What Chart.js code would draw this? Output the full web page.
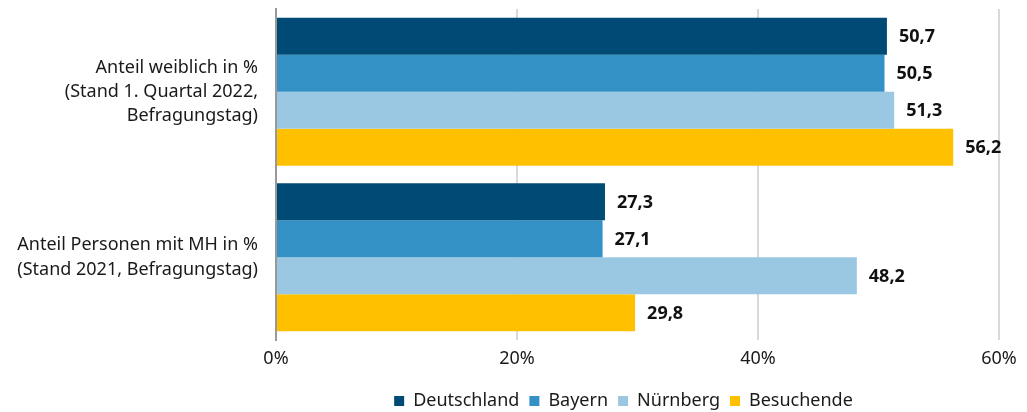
<!DOCTYPE html>
<html>
<head>
<meta charset="utf-8">
<script src="https://cdn.jsdelivr.net/npm/chart.js@4/dist/chart.umd.min.js"></script>
<style>
  html, body { margin: 0; padding: 0; background: #fff; }
  #wrap { width: 1027px; height: 412px; position: relative; }
</style>
</head>
<body>
<div id="wrap"><canvas id="chart"></canvas></div>
<script>
const categories = [
    ["Anteil weiblich in %", "(Stand 1. Quartal 2022,", "Befragungstag)"],
    ["Anteil Personen mit MH in %", "(Stand 2021, Befragungstag)"]
];
const seriesNames = ["Deutschland", "Bayern", "Nürnberg", "Besuchende"];
const deutschland = [50.7, 27.3];
const bayern = [50.5, 27.1];
const nuernberg = [51.3, 48.2];
const besuchende = [56.2, 29.8];
const xTicks = [0, 20, 40, 60];

const colors = ["#004b76", "#3391c6", "#9ac8e2", "#ffc000"];
const FONT = "'Noto Sans', 'Open Sans', sans-serif";

// Werte rechts neben die Balken schreiben
const valueLabels = {
    id: "valueLabels",
    afterLayout(chart) {
        // Legende etwas nach links schieben wie im Original
        chart.legend.left -= 14;
        chart.legend.right -= 14;
    },
    afterDatasetsDraw(chart) {
        const ctx = chart.ctx;
        ctx.save();
        ctx.font = "bold 18px " + FONT;
        ctx.fillStyle = "#111";
        ctx.textBaseline = "middle";
        ctx.textAlign = "left";
        chart.data.datasets.forEach((ds, i) => {
            chart.getDatasetMeta(i).data.forEach((bar, j) => {
                ctx.fillText(ds.data[j].toFixed(1).replace(".", ","), bar.x + 12, bar.y + 1);
            });
        });
        ctx.restore();
    }
};

const data = [deutschland, bayern, nuernberg, besuchende];

new Chart(document.getElementById("chart"), {
    type: "bar",
    data: {
        labels: categories,
        datasets: seriesNames.map((name, i) => ({
            label: name,
            data: data[i],
            backgroundColor: colors[i],
            borderWidth: 0,
            barPercentage: 1,
            categoryPercentage: 0.895
        }))
    },
    options: {
        indexAxis: "y",
        responsive: true,
        maintainAspectRatio: false,
        animation: false,
        layout: { padding: { top: 9, right: 28, bottom: -8, left: 0 } },
        scales: {
            x: {
                min: 0,
                max: 60,
                afterBuildTicks: axis => { axis.ticks = xTicks.map(v => ({ value: v })); },
                grid: { color: "#d9d9d9", lineWidth: 2, drawTicks: false },
                border: { display: false },
                ticks: {
                    padding: 8,
                    color: "#1a1a1a",
                    font: { family: FONT, size: 18 },
                    callback: v => v + "%"
                },
                afterFit: axis => { axis.height = 42; }
            },
            y: {
                grid: { display: false },
                border: { color: "#999", width: 2 },
                ticks: {
                    padding: 10,
                    color: "#1a1a1a",
                    font: { family: FONT, size: 18, lineHeight: 1.35 }
                },
                afterFit: axis => {
                    axis.width = 276;
                    axis.paddingTop = 0;
                    axis.paddingBottom = 0;
                }
            }
        },
        plugins: {
            legend: {
                position: "bottom",
                fullSize: false,
                labels: {
                    boxWidth: 10,
                    boxHeight: 10,
                    padding: 10,
                    color: "#1a1a1a",
                    font: { family: FONT, size: 18 }
                }
            },
            tooltip: { enabled: false }
        }
    },
    plugins: [valueLabels]
});
</script>
</body>
</html>
